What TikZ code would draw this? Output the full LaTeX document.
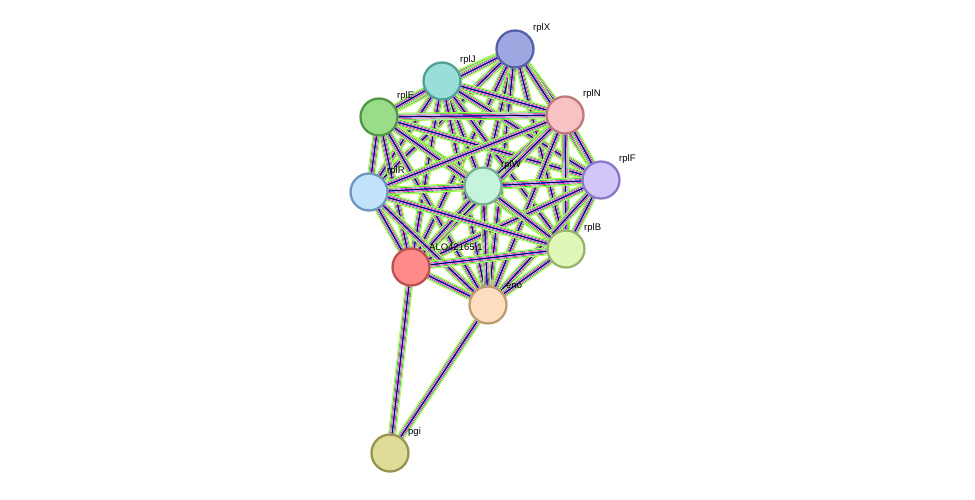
\documentclass[tikz,border=0pt]{standalone}
\usepackage{fontspec}
\setmainfont{Liberation Sans}
\usetikzlibrary{backgrounds}
\tikzset{
    protein/.style={draw, circle, minimum size=37pt, inner sep=0pt, line width=2.3pt},
    plabel/.style={font=\fontsize{9.5}{11}\selectfont, anchor=south west, inner sep=1pt},
    link/.style={line cap=butt}
}
\newcommand{\stringlink}[2]{%
  \draw[link, line width=8pt, color=green!45!yellow] (#1) -- (#2);
  \draw[link, line width=6.8pt, color=white] (#1) -- (#2);
  \draw[link, line width=5.8pt, color=green!75!black] (#1) -- (#2);
  \draw[link, line width=4.6pt, color=white] (#1) -- (#2);
  \draw[link, line width=3.7pt, color=magenta] (#1) -- (#2);
  \draw[link, line width=2.5pt, color=white] (#1) -- (#2);
  \draw[link, line width=1.7pt, color=blue!80] (#1) -- (#2);
  \draw[link, line width=0.6pt, color=black] (#1) -- (#2);
}
\begin{document}
\begin{tikzpicture}[x=1pt, y=-1pt]
    \useasboundingbox (0,0) rectangle (975,499);
    % proteins
    \node[protein, fill={rgb,255:red,158;green,167;blue,224}, draw={rgb,255:red,84;green,96;blue,168}] (rplX) at (515,49) {};
    \node[protein, fill={rgb,255:red,153;green,222;blue,216}, draw={rgb,255:red,80;green,160;blue,150}] (rplJ) at (442,81) {};
    \node[protein, fill={rgb,255:red,153;green,221;blue,136}, draw={rgb,255:red,80;green,150;blue,70}] (rplE) at (379,117) {};
    \node[protein, fill={rgb,255:red,247;green,194;blue,196}, draw={rgb,255:red,190;green,120;blue,125}] (rplN) at (565,115) {};
    \node[protein, fill={rgb,255:red,211;green,197;blue,248}, draw={rgb,255:red,140;green,120;blue,200}] (rplF) at (601,180) {};
    \node[protein, fill={rgb,255:red,196;green,245;blue,220}, draw={rgb,255:red,120;green,175;blue,145}] (rplW) at (483,186) {};
    \node[protein, fill={rgb,255:red,195;green,227;blue,250}, draw={rgb,255:red,110;green,150;blue,190}] (rplR) at (369,192) {};
    \node[protein, fill={rgb,255:red,225;green,247;blue,184}, draw={rgb,255:red,150;green,180;blue,110}] (rplB) at (566,249) {};
    \node[protein, fill={rgb,255:red,255;green,138;blue,138}, draw={rgb,255:red,190;green,80;blue,80}] (ALO) at (411,267) {};
    \node[protein, fill={rgb,255:red,253;green,221;blue,192}, draw={rgb,255:red,190;green,155;blue,115}] (eno) at (488,305) {};
    \node[protein, fill={rgb,255:red,222;green,220;blue,152}, draw={rgb,255:red,150;green,148;blue,80}] (pgi) at (390,453) {};
    % labels
    \foreach \n/\t in {rplX/rplX, rplJ/rplJ, rplE/rplE, rplN/rplN, rplF/rplF, rplW/rplW,
                       rplR/rplR, rplB/rplB, ALO/ALO42165.1, eno/eno, pgi/pgi}
        {\node[plabel] at ([xshift=17pt,yshift=15pt]\n.center) {\t};}
    % links
    \begin{scope}[on background layer]
    \foreach \a/\b in {rplX/rplJ, rplX/rplE, rplX/rplN, rplX/rplF, rplX/rplW, rplX/rplR,
                       rplX/rplB, rplX/ALO, rplX/eno, rplJ/rplE, rplJ/rplN, rplJ/rplF,
                       rplJ/rplW, rplJ/rplR, rplJ/rplB, rplJ/ALO, rplJ/eno, rplE/rplN,
                       rplE/rplF, rplE/rplW, rplE/rplR, rplE/rplB, rplE/ALO, rplE/eno,
                       rplN/rplF, rplN/rplW, rplN/rplR, rplN/rplB, rplN/ALO, rplN/eno,
                       rplF/rplW, rplF/rplR, rplF/rplB, rplF/ALO, rplF/eno, rplW/rplR,
                       rplW/rplB, rplW/ALO, rplW/eno, rplR/rplB, rplR/ALO, rplR/eno,
                       rplB/ALO, rplB/eno, ALO/eno, ALO/pgi, eno/pgi}
        {\stringlink{\a}{\b}}
    \end{scope}
\end{tikzpicture}
\end{document}
